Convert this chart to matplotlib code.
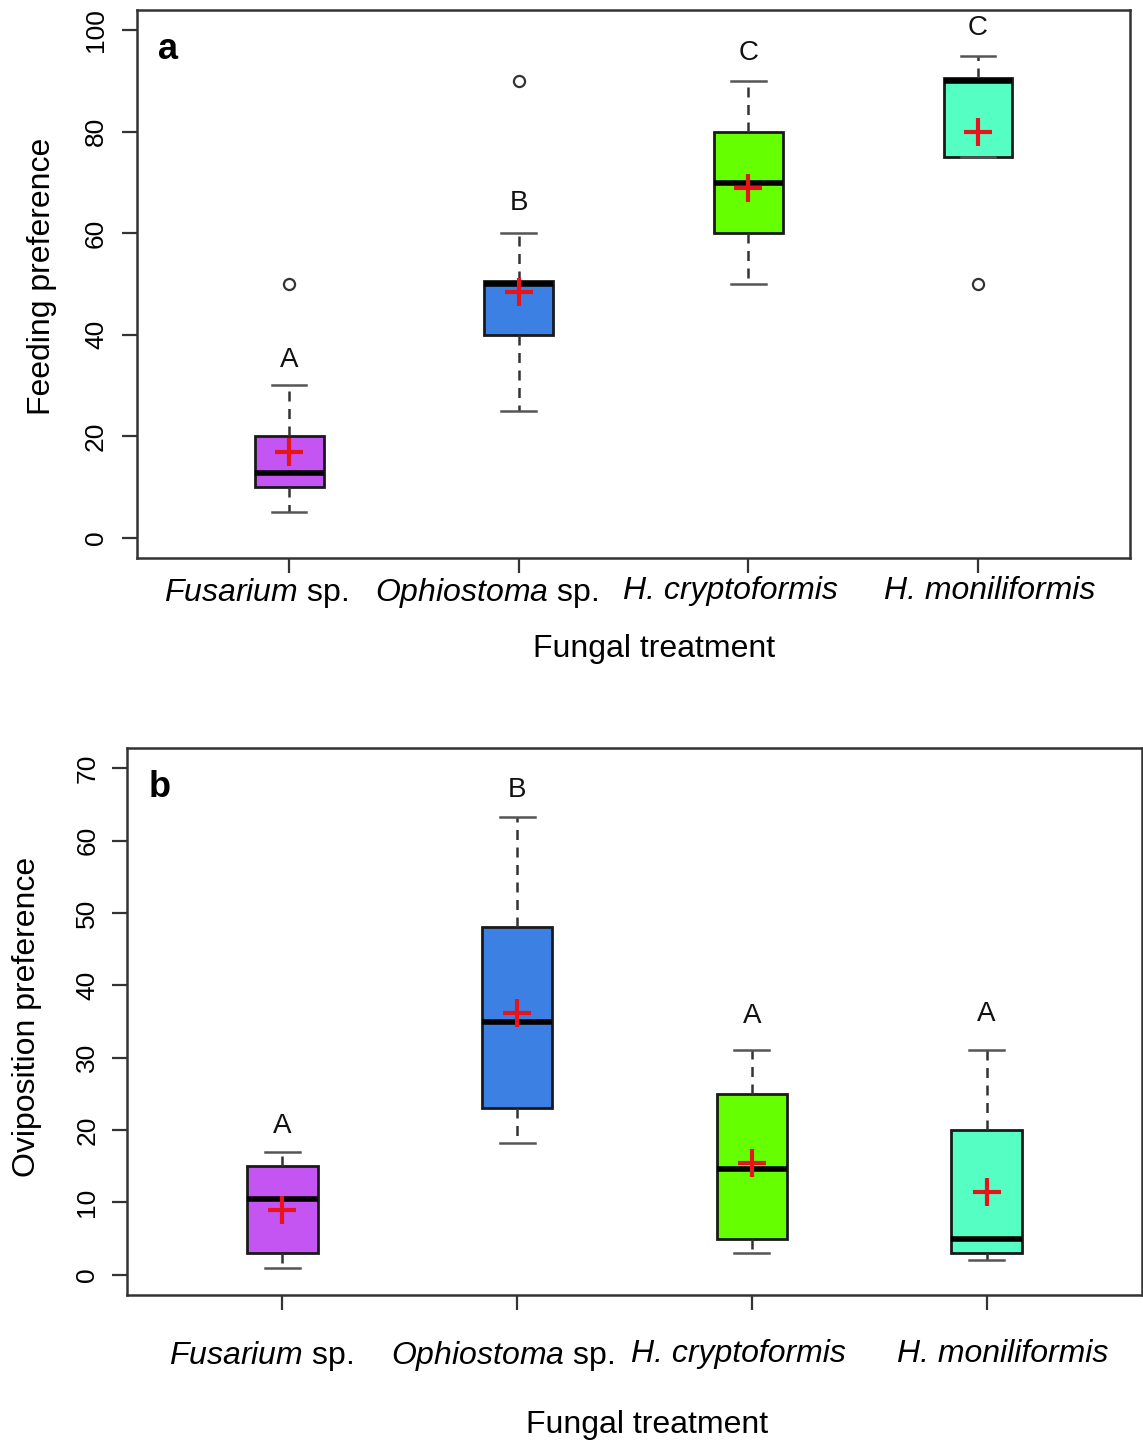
import matplotlib
matplotlib.use("Agg")
import matplotlib.pyplot as plt
from matplotlib.transforms import ScaledTranslation

plt.rcParams["font.family"] = ["Liberation Sans", "DejaVu Sans"]
plt.rcParams["mathtext.fontset"] = "custom"
plt.rcParams["mathtext.rm"] = "Liberation Sans"
plt.rcParams["mathtext.it"] = "Liberation Sans:italic"

# fungal treatments
treatments = [r"$\it{Fusarium}$ sp.", r"$\it{Ophiostoma}$ sp.",
              "H. cryptoformis", "H. moniliformis"]
colors = ["#C455F2", "#3D80E4", "#66FF00", "#55FFC4"]

# panel a: feeding preference
feed_whislo = [5, 25, 50, 75]
feed_q1 = [10, 40, 60, 75]
feed_med = [12.8, 50, 70, 90]
feed_q3 = [20, 50.5, 80, 90.5]
feed_whishi = [30, 60, 90, 95]
feed_mean = [16.8, 48.4, 69, 80]
feed_fliers = [[50], [90], [], [50]]
feed_letters = ["A", "B", "C", "C"]
feed_letter_y = [35, 66, 95.6, 100.4]
feed_label_shift = [-33, -32, -18, 12]   # px, label nudges seen in the figure

# panel b: oviposition preference
ovi_whislo = [1, 18.2, 3, 2]
ovi_q1 = [3, 23, 5, 3]
ovi_med = [10.5, 35, 14.6, 5]
ovi_q3 = [15, 48, 25, 20]
ovi_whishi = [17, 63.2, 31, 31]
ovi_mean = [9, 36.2, 15.5, 11.5]
ovi_fliers = [[], [], [], []]
ovi_letters = ["A", "B", "A", "A"]
ovi_letter_y = [20.5, 67, 35.8, 36.1]
ovi_label_shift = [-21, -15, -13, 16]


def make_stats(lo, q1, med, q3, hi, mean, fliers):
    return [dict(whislo=lo[i], q1=q1[i], med=med[i], q3=q3[i], whishi=hi[i],
                 mean=mean[i], fliers=fliers[i]) for i in range(len(lo))]


def draw_panel(ax, stats, letters, letter_y, shifts, ylim, yticks, ylabel, tag, xpad, ypad):
    bp = ax.bxp(stats, positions=[1, 2, 3, 4], widths=0.3, capwidths=0.15,
                patch_artist=True, showmeans=True,
                boxprops=dict(edgecolor="#1a1a1a", linewidth=2),
                medianprops=dict(color="black", linewidth=4),
                whiskerprops=dict(color="#333333", linewidth=1.8, linestyle=(0, (4, 3))),
                capprops=dict(color="#555555", linewidth=1.8),
                flierprops=dict(marker="o", markerfacecolor="none",
                                markeredgecolor="#333333", markersize=8, markeredgewidth=1.6),
                meanprops=dict(marker="+", markeredgecolor="#E8141B",
                               markersize=20, markeredgewidth=3))
    for patch, c in zip(bp["boxes"], colors):
        patch.set_facecolor(c)
    for i, (t, y) in enumerate(zip(letters, letter_y)):
        ax.text(i + 1, y, t, ha="center", va="center", fontsize=20, color="#111111")
    ax.set_xlim(0.338, 4.662)
    ax.set_ylim(*ylim)
    ax.set_yticks(yticks)
    ax.set_xticks([1, 2, 3, 4])
    ax.set_xticklabels(treatments)
    for s in ax.spines.values():
        s.set_linewidth(1.8)
        s.set_color("#333333")
    ax.tick_params(axis="both", direction="out", length=11, width=1.6, color="#333333")
    ax.tick_params(axis="y", labelsize=19, labelrotation=90, pad=ypad)
    ax.tick_params(axis="x", labelsize=23, pad=xpad)
    for lab in ax.get_yticklabels():
        lab.set_va("center")
    for tick, dx in zip(ax.xaxis.get_major_ticks(), shifts):
        lab = tick.label1
        if "$" not in lab.get_text():
            lab.set_fontstyle("italic")
        lab.set_transform(lab.get_transform() + ScaledTranslation(dx / 100, 0, fig.dpi_scale_trans))
    ax.set_ylabel(ylabel, fontsize=23, va="center")
    ax.set_xlabel("Fungal treatment", fontsize=23, va="center")
    ax.text(0.021, 0.928, tag, transform=ax.transAxes, fontsize=26,
            fontweight="bold", ha="left", va="center")


fig = plt.figure(figsize=(11.43, 14.46), dpi=100)

ax1 = fig.add_axes([0.1199, 0.6141, 0.8687, 0.3790])
draw_panel(ax1, make_stats(feed_whislo, feed_q1, feed_med, feed_q3, feed_whishi,
                           feed_mean, feed_fliers),
           feed_letters, feed_letter_y, feed_label_shift, (-4, 104),
           [0, 20, 40, 60, 80, 100], "Feeding preference", "a", 2, 10)
ax1.xaxis.set_label_coords(0.5207, -0.166)
ax1.yaxis.set_label_coords(-0.0957, 0.513)

ax2 = fig.add_axes([0.1111, 0.1044, 0.8880, 0.3783])
draw_panel(ax2, make_stats(ovi_whislo, ovi_q1, ovi_med, ovi_q3, ovi_whishi,
                           ovi_mean, ovi_fliers),
           ovi_letters, ovi_letter_y, ovi_label_shift, (-2.8, 72.8),
           [0, 10, 20, 30, 40, 50, 60, 70], "Oviposition preference", "b", 21, 9)
ax2.xaxis.set_label_coords(0.512, -0.2377)
ax2.yaxis.set_label_coords(-0.0985, 0.509)

fig.savefig("out.png", dpi=100)
